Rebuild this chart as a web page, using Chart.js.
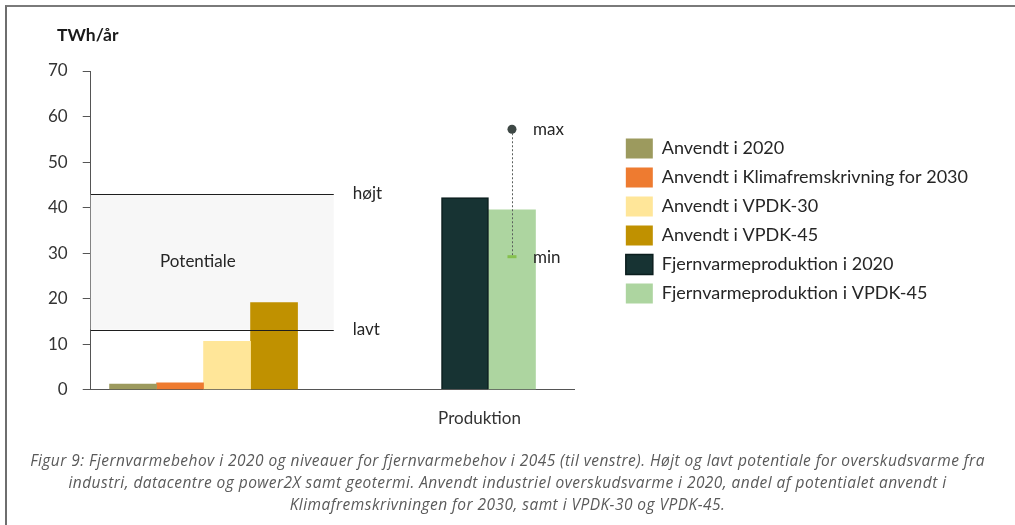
<!DOCTYPE html>
<html>
<head>
<meta charset="utf-8">
<script src="https://cdn.jsdelivr.net/npm/chart.js@4/dist/chart.umd.min.js"></script>
<style>
  html, body { margin: 0; padding: 0; background: #fff; }
  #wrap { position: relative; width: 1015px; height: 525px; overflow: hidden; }
  #frame { position: absolute; left: 5px; top: 5px; right: -4px; bottom: -4px;
           border-top: 2px solid #7a7a7a; border-left: 2px solid #6e6e6e; pointer-events: none; }
  canvas { position: absolute; left: 0; top: 0; }
</style>
</head>
<body>
<div id="wrap">
  <canvas id="chart" width="1015" height="525"></canvas>
  <div id="frame"></div>
</div>
<script>
// Categories along the x axis (first group is unlabelled)
const categories = ['', 'Produktion'];

// Series names (legend order)
const seriesNames = [
  'Anvendt i 2020',
  'Anvendt i Klimafremskrivning for 2030',
  'Anvendt i VPDK-30',
  'Anvendt i VPDK-45',
  'Fjernvarmeproduktion i 2020',
  'Fjernvarmeproduktion i VPDK-45'
];

// Values in TWh/år per category
const anvendt2020       = [1.2, null];
const anvendtKlima2030  = [1.5, null];
const anvendtVPDK30     = [10.6, null];
const anvendtVPDK45     = [19.1, null];
const fjernvarme2020    = [null, 42.2];
const fjernvarmeVPDK45  = [null, 39.5];

// Potential for surplus heat (high / low)
const potentialHigh = 43.0;
const potentialLow = 13.2;

// Range for district heating production in VPDK-45
const productionMax = 57.2;
const productionMin = 29.2;

// Y axis ticks
const yTicks = [0, 10, 20, 30, 40, 50, 60, 70];

const caption = [
  'Figur 9: Fjernvarmebehov i 2020 og niveauer for fjernvarmebehov i 2045 (til venstre). Højt og lavt potentiale for overskudsvarme fra',
  'industri, datacentre og power2X samt geotermi. Anvendt industriel overskudsvarme i 2020, andel af potentialet anvendt i',
  'Klimafremskrivningen for 2030, samt i VPDK-30 og VPDK-45.'
];

const seriesValues = [anvendt2020, anvendtKlima2030, anvendtVPDK30, anvendtVPDK45, fjernvarme2020, fjernvarmeVPDK45];
const seriesColors = ['#9c9a5e', '#ee7b30', '#ffe699', '#c09100', '#173333', '#add5a0'];
const seriesBorders = ['#9c9a5e', '#ee7b30', '#ffe699', '#c09100', '#0b1e1e', '#add5a0'];

const FONT = 'Lato, "Open Sans", sans-serif';
const TEXT = '#262626';

// Annotations: potential band, range marker, labels and caption
const annotations = {
  id: 'annotations',
  beforeDatasetsDraw(chart) {
    const { ctx, scales: { x, y }, chartArea } = chart;
    const x0 = chartArea.left;
    const x1 = x.getPixelForValue(0.457);
    ctx.save();
    ctx.fillStyle = '#f7f7f7';
    ctx.fillRect(x0, y.getPixelForValue(potentialHigh), x1 - x0,
                 y.getPixelForValue(potentialLow) - y.getPixelForValue(potentialHigh));
    ctx.fillStyle = TEXT;
    ctx.font = '17px ' + FONT;
    ctx.textAlign = 'center';
    ctx.textBaseline = 'middle';
    ctx.fillText('Potentiale', x.getPixelForValue(-0.02), y.getPixelForValue((potentialHigh + potentialLow) / 2));
    ctx.restore();
  },
  afterDatasetsDraw(chart) {
    const { ctx, scales: { x, y }, chartArea } = chart;
    const x0 = chartArea.left;
    const x1 = x.getPixelForValue(0.457);
    ctx.save();
    // high / low potential lines
    ctx.strokeStyle = '#1e1e1e';
    ctx.lineWidth = 1;
    [potentialHigh, potentialLow].forEach(v => {
      const py = Math.round(y.getPixelForValue(v)) + 0.5;
      ctx.beginPath();
      ctx.moveTo(x0, py);
      ctx.lineTo(x1, py);
      ctx.stroke();
    });
    ctx.fillStyle = TEXT;
    ctx.font = '17px ' + FONT;
    ctx.textAlign = 'left';
    ctx.textBaseline = 'middle';
    ctx.fillText('højt', x1 + 19, y.getPixelForValue(potentialHigh));
    ctx.fillText('lavt', x1 + 19, y.getPixelForValue(potentialLow));

    // max / min range on the VPDK-45 production bar
    const bar = chart.getDatasetMeta(5).data[1];
    const bx = bar.x;
    const yMax = y.getPixelForValue(productionMax);
    const yMin = y.getPixelForValue(productionMin);
    ctx.strokeStyle = '#5a5f5c';
    ctx.setLineDash([2, 2]);
    ctx.beginPath();
    ctx.moveTo(Math.round(bx) + 0.5, yMax);
    ctx.lineTo(Math.round(bx) + 0.5, yMin);
    ctx.stroke();
    ctx.setLineDash([]);
    ctx.fillStyle = '#3e4845';
    ctx.beginPath();
    ctx.arc(bx, yMax, 4.5, 0, Math.PI * 2);
    ctx.fill();
    ctx.fillStyle = '#86c04e';
    ctx.fillRect(bx - 4.5, yMin - 1.5, 9, 3);
    ctx.fillStyle = TEXT;
    ctx.fillText('max', bx + 21, yMax);
    ctx.fillText('min', bx + 21, yMin + 1);
    ctx.restore();
  },
  afterDraw(chart) {
    const { ctx } = chart;
    ctx.save();
    ctx.fillStyle = '#1a1a1a';
    ctx.font = 'bold 17.5px ' + FONT;
    ctx.textAlign = 'left';
    ctx.textBaseline = 'middle';
    ctx.fillText('TWh/år', 57, 35);

    ctx.fillStyle = '#5a5a5a';
    ctx.font = 'italic 15.5px "Open Sans", sans-serif';
    ctx.letterSpacing = '0.45px';
    ctx.textAlign = 'center';
    const widths = [958, 881, 443];
    caption.forEach((line, i) => {
      ctx.fillText(line, 507.5, 462 + i * 22, widths[i]);
    });
    ctx.restore();
  },
  afterLayout(chart) {
    // keep the legend clear of the plot
    const lg = chart.legend;
    lg.left += 42; lg.right += 42;
    lg.top -= 34.5; lg.bottom -= 34.5;
  }
};

new Chart(document.getElementById('chart'), {
  type: 'bar',
  data: {
    labels: categories.map((_, i) => i),
    datasets: seriesNames.map((name, i) => ({
      label: name,
      data: seriesValues[i],
      backgroundColor: seriesColors[i],
      borderColor: seriesBorders[i],
      borderWidth: i === 4 ? 1.5 : 0
    }))
  },
  options: {
    responsive: false,
    animation: false,
    devicePixelRatio: 1,
    layout: { padding: { left: 33, top: 71, right: 79, bottom: 85 } },
    datasets: { bar: { skipNull: true, barThickness: 47, grouped: true } },
    scales: {
      x: {
        type: 'linear',
        offset: false,
        min: -0.396,
        max: 1.303,
        afterBuildTicks: ax => { ax.ticks = categories.map((_, i) => ({ value: i })); },
        ticks: {
          callback: v => categories[v] ?? '',
          autoSkip: false, maxRotation: 0,
          padding: 11,
          labelOffset: -9,
          color: '#333',
          font: { family: FONT, size: 17 }
        },
        grid: { display: false },
        border: { color: '#555', width: 1 }
      },
      y: {
        min: 0,
        max: 70,
        afterBuildTicks: ax => { ax.ticks = yTicks.map(v => ({ value: v })); },
        ticks: { padding: 15, color: '#333', font: { family: FONT, size: 17 } },
        grid: { drawOnChartArea: false, drawTicks: true, tickLength: 8, color: '#555' },
        border: { color: '#555', width: 1 }
      }
    },
    plugins: {
      legend: {
        position: 'right',
        maxWidth: 420,
        labels: {
          boxWidth: 27, boxHeight: 20, padding: 9,
          color: TEXT,
          font: { family: FONT, size: 18 }
        }
      },
      tooltip: { enabled: false }
    }
  },
  plugins: [annotations]
});
</script>
</body>
</html>
